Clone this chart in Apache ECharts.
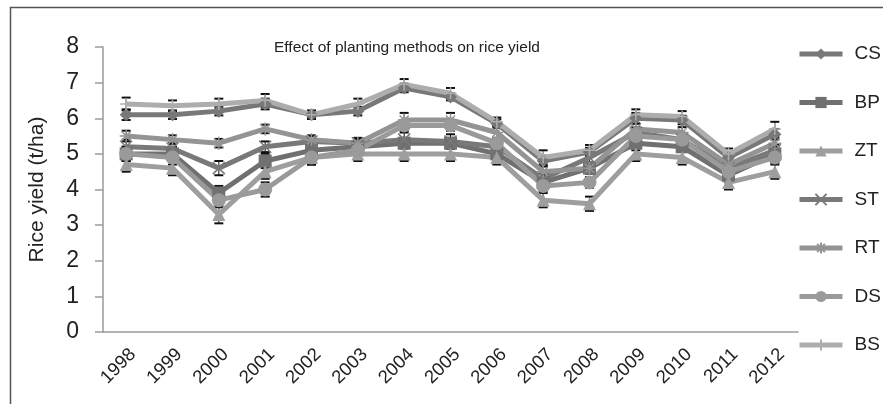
<!DOCTYPE html>
<html>
<head>
<meta charset="utf-8">
<title>Effect of planting methods on rice yield</title>
<script src="https://cdn.jsdelivr.net/npm/echarts@6/dist/echarts.min.js"></script>
<style>
  html, body { margin: 0; padding: 0; background: #fff; }
  #chart { width: 883px; height: 404px; }
</style>
</head>
<body>
<div id="chart"></div>
<script>
const years = ['1998', '1999', '2000', '2001', '2002', '2003', '2004', '2005', '2006', '2007', '2008', '2009', '2010', '2011', '2012']
const yTicks = [0, 1, 2, 3, 4, 5, 6, 7, 8]

// mean yield (t/ha) per planting method
const csData = [6.1, 6.1, 6.2, 6.4, 6.1, 6.2, 6.85, 6.6, 5.85, 4.8, 5.05, 6.0, 5.95, 4.9, 5.55]
const bpData = [5.0, 5.0, 3.9, 4.8, 5.1, 5.2, 5.3, 5.3, 5.0, 4.2, 4.6, 5.3, 5.2, 4.4, 5.0]
const ztData = [4.7, 4.6, 3.3, 4.5, 4.9, 5.0, 5.0, 5.0, 4.9, 3.7, 3.6, 5.0, 4.9, 4.2, 4.5]
const stData = [5.2, 5.15, 4.6, 5.2, 5.35, 5.3, 5.4, 5.35, 5.2, 4.3, 4.9, 5.6, 5.4, 4.6, 5.1]
const rtData = [5.5, 5.4, 5.3, 5.7, 5.4, 5.3, 5.95, 5.95, 5.6, 4.5, 4.6, 5.7, 5.6, 4.7, 5.3]
const dsData = [5.0, 4.9, 3.7, 4.0, 4.9, 5.1, 5.8, 5.8, 5.3, 4.1, 4.2, 5.5, 5.4, 4.5, 4.9]
const bsData = [6.4, 6.35, 6.4, 6.5, 6.1, 6.4, 6.95, 6.7, 5.9, 4.9, 5.1, 6.1, 6.05, 5.0, 5.7]

// error bar half widths
const csErr = [0.15, 0.12, 0.12, 0.15, 0.1, 0.12, 0.12, 0.1, 0.12, 0.15, 0.12, 0.15, 0.12, 0.12, 0.15]
const bpErr = [0.2, 0.2, 0.2, 0.2, 0.15, 0.15, 0.15, 0.15, 0.15, 0.2, 0.15, 0.2, 0.15, 0.2, 0.2]
const ztErr = [0.2, 0.2, 0.25, 0.2, 0.2, 0.2, 0.2, 0.2, 0.2, 0.2, 0.2, 0.2, 0.2, 0.2, 0.2]
const stErr = [0.2, 0.15, 0.2, 0.15, 0.15, 0.15, 0.2, 0.2, 0.15, 0.15, 0.15, 0.15, 0.15, 0.15, 0.15]
const rtErr = [0.15, 0.12, 0.12, 0.12, 0.12, 0.12, 0.2, 0.2, 0.2, 0.15, 0.15, 0.15, 0.15, 0.15, 0.15]
const dsErr = [0.2, 0.2, 0.2, 0.2, 0.2, 0.15, 0.15, 0.15, 0.15, 0.15, 0.15, 0.15, 0.15, 0.15, 0.15]
const bsErr = [0.18, 0.15, 0.15, 0.18, 0.12, 0.15, 0.15, 0.15, 0.12, 0.2, 0.15, 0.15, 0.15, 0.15, 0.2]

const methods = [
  { name: 'CS', data: csData, err: csErr, color: '#787878', symbol: 'diamond', size: 13 },
  { name: 'BP', data: bpData, err: bpErr, color: '#707070', symbol: 'rect', size: 13 },
  { name: 'ZT', data: ztData, err: ztErr, color: '#9e9e9e', symbol: 'triangle', size: 13 },
  { name: 'ST', data: stData, err: stErr, color: '#797979', symbol: 'path://M0,0L10,10M10,0L0,10', size: 12, stroke: true },
  { name: 'RT', data: rtData, err: rtErr, color: '#949494', symbol: 'path://M5,0L5,10M0,5L10,5M1.5,1.5L8.5,8.5M8.5,1.5L1.5,8.5', size: 13, stroke: true },
  { name: 'DS', data: dsData, err: dsErr, color: '#9a9a9a', symbol: 'circle', size: 14 },
  { name: 'BS', data: bsData, err: bsErr, color: '#adadad', symbol: 'path://M5,0L5,10M0,5L10,5', size: 12, stroke: true }
]

const font = '"Liberation Sans", Arial, sans-serif'

const renderErr = (params, api) => {
  const x = api.value(0)
  const v = api.value(1)
  const e = api.value(2)
  const top = api.coord([x, v + e])
  const bot = api.coord([x, v - e])
  const cap = 4.5
  const style = { stroke: '#111', lineWidth: 2 }
  return {
    type: 'group',
    children: [
      { type: 'line', shape: { x1: top[0], y1: top[1], x2: bot[0], y2: bot[1] }, style: { stroke: '#111', lineWidth: 1 } },
      { type: 'line', shape: { x1: top[0] - cap, y1: top[1], x2: top[0] + cap, y2: top[1] }, style },
      { type: 'line', shape: { x1: bot[0] - cap, y1: bot[1], x2: bot[0] + cap, y2: bot[1] }, style }
    ]
  }
}

const series = []
methods.forEach((m) => {
  series.push({
    name: m.name + '-err',
    type: 'custom',
    renderItem: renderErr,
    data: m.data.map((v, i) => [i, v, m.err[i]]),
    z: 1,
    silent: true
  })
})
methods.forEach((m) => {
  series.push({
    name: m.name,
    type: 'line',
    data: m.data,
    symbol: m.symbol,
    symbolSize: m.size,
    showSymbol: true,
    lineStyle: { color: m.color, width: 5 },
    itemStyle: {
      color: m.color,
      borderColor: m.color,
      borderWidth: m.stroke ? 1.5 : 0
    },
    z: 2
  })
})

const chart = echarts.init(document.getElementById('chart'), null, { renderer: 'canvas' })
const option = {
  animation: false,
  backgroundColor: '#fff',
  title: {
    text: 'Effect of planting methods on rice yield',
    left: 274,
    top: 40,
    padding: 0,
    textStyle: { fontFamily: font, fontWeight: 'normal', fontSize: 15.5, color: '#222' }
  },
  legend: {
    data: methods.map((m) => m.name),
    orient: 'vertical',
    left: 792,
    top: 39,
    itemWidth: 43,
    itemHeight: 14,
    itemGap: 28.5,
    lineStyle: { width: 5 },
    textStyle: { fontFamily: font, fontSize: 19, color: '#222', lineHeight: 20, padding: [0, 0, 0, 7] }
  },
  grid: {
    left: 103,
    right: 85,
    top: 47,
    bottom: 72,
    outerBoundsMode: 'none'
  },
  xAxis: {
    type: 'category',
    data: years,
    axisLine: { lineStyle: { color: '#9a9a9a', width: 1.5 } },
    axisTick: { length: 9, interval: 0, lineStyle: { color: '#9a9a9a', width: 1.5 } },
    axisLabel: { interval: 0, rotate: 45, margin: 13, verticalAlign: 'top', fontFamily: font, fontSize: 18.5, color: '#222' }
  },
  yAxis: {
    type: 'value',
    min: yTicks[0],
    max: yTicks[yTicks.length - 1],
    interval: 1,
    name: 'Rice yield (t/ha)',
    nameLocation: 'middle',
    nameGap: 55,
    nameTextStyle: { fontFamily: font, fontSize: 21, color: '#222' },
    axisLine: { show: true, lineStyle: { color: '#9a9a9a', width: 1.5 } },
    axisTick: { show: true, length: 8, lineStyle: { color: '#9a9a9a', width: 1.5 } },
    axisLabel: { margin: 24, fontFamily: font, fontSize: 23, color: '#222' },
    splitLine: { show: false }
  },
  graphic: [
    {
      type: 'rect',
      shape: { x: 10.5, y: 7.5, width: 900, height: 450 },
      style: { fill: 'none', stroke: '#555', lineWidth: 1.5 },
      silent: true
    }
  ],
  series: series
}
option && chart.setOption(option)
</script>
</body>
</html>
